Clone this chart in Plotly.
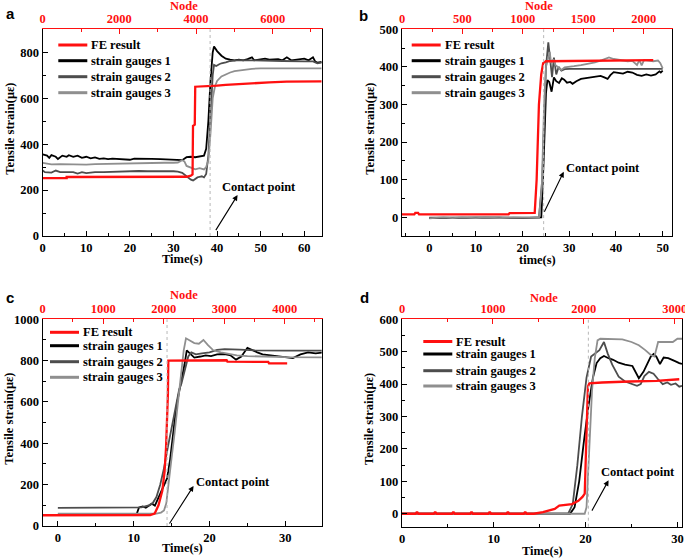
import plotly.graph_objects as go

SERIF = 'Liberation Serif, Times New Roman, serif'
RED = '#ff1010'
GAUGE_COLORS = ['#000000', '#4d4d4d', '#8f8f8f']
LEGEND_NAMES = ['FE result', 'strain gauges 1', 'strain gauges 2', 'strain gauges 3']

# ---------------- panel a ----------------
a_fe_node = [0, 625, 625, 3750, 3865, 3910, 3922, 3968, 3980, 4320, 4550, 4775, 5115, 5460, 5910, 6365, 7280]
a_fe = [252, 252, 257, 258, 263, 268, 480, 485, 650, 652, 655, 658, 662, 665, 669, 672, 673]

a_g1_t = [0, 1, 1.5, 2, 3, 3.5, 4.5, 5.5, 6, 7, 8, 9, 10, 11, 12, 13, 14, 15, 16, 18, 20, 21, 23, 25, 27,
          29, 30, 31, 32, 33, 34, 35, 36, 37, 37.5, 38, 38.5, 39, 39.3, 40, 41, 42, 43, 44, 45, 46, 47, 48,
          48.5, 50, 51, 52, 54, 55, 56, 57, 59, 60, 61, 62, 62.5, 63, 64]
a_g1 = [355, 350, 340, 352, 345, 335, 350, 345, 352, 345, 350, 340, 345, 338, 342, 336, 338, 335, 337, 335,
        332, 337, 335, 336, 335, 333, 335, 333, 330, 343, 345, 343, 346, 350, 380, 500, 680, 800, 825, 805,
        785, 772, 768, 765, 768, 765, 770, 778, 765, 770, 772, 768, 770, 765, 778, 765, 768, 772, 765, 778,
        760, 755, 758]
a_g2_t = [0, 0.5, 2, 3, 4, 6, 7, 8, 9, 10, 11, 12, 14, 16, 18, 20, 22, 24, 26, 28, 30, 31, 32, 33, 34, 34.5,
          35, 35.5, 36, 36.5, 37, 37.5, 38, 38.5, 39, 39.3, 39.8, 40.5, 41, 42, 43, 44, 45, 47, 50, 55, 60,
          62, 63, 64]
a_g2 = [285, 278, 276, 285, 278, 276, 278, 272, 278, 274, 276, 278, 278, 280, 282, 283, 283, 282, 283, 282,
        282, 280, 275, 260, 245, 242, 250, 255, 258, 260, 255, 270, 350, 550, 700, 745, 740, 748, 752, 756,
        762, 764, 766, 765, 763, 762, 760, 760, 752, 755]
a_g3_t = [0, 1, 2, 4, 6, 8, 10, 12, 14, 16, 18, 20, 22, 24, 26, 28, 30, 31, 32, 32.5, 33, 34, 35, 36, 37,
          37.5, 38, 38.5, 39, 39.5, 40, 41, 42, 43, 44, 46, 48, 50, 55, 60, 64]
a_g3 = [318, 315, 312, 313, 312, 314, 311, 313, 314, 315, 316, 318, 318, 318, 318, 319, 319, 320, 330, 325,
        305, 298, 290, 295, 290, 300, 330, 450, 600, 650, 675, 695, 705, 712, 718, 724, 728, 730, 730, 730,
        730]

# ---------------- panel b ----------------
b_fe_node = [0, 102, 110, 133, 141, 882, 890, 1098, 1114, 1133, 1152, 1168, 1191, 1384, 1770, 2079]
b_fe = [8, 8, 12, 12, 8, 8, 11, 12, 100, 300, 380, 410, 415, 416, 418, 418]

b_g1_t = [0, 5, 10, 15, 20, 23, 24, 24.5, 25, 25.3, 25.7, 26.2, 26.7, 27.2, 27.8, 28.4, 28.9, 29.5, 30.2,
          30.7, 31.5, 32.5, 33.5, 34.5, 35.5, 36.7, 37.5, 38.2, 38.8, 39.5, 40.5, 41.5, 42.5, 43.5, 44.5,
          45.5, 46.5, 47.5, 48.5, 49.3, 49.6, 50]
b_g1 = [-2, -1, -2, -1, -2, -1, 0, 150, 330, 365, 360, 334, 372, 362, 357, 370, 366, 358, 360, 355, 362,
        368, 370, 372, 372, 376, 372, 368, 378, 386, 384, 382, 387, 385, 379, 376, 380, 377, 380, 388, 385,
        390]
b_g2_t = [0, 10, 20, 23.5, 24.2, 24.7, 25.0, 25.5, 25.9, 26.3, 26.7, 27.2, 27.7, 28.3, 29, 30, 40, 49, 50]
b_g2 = [-1, 0, -1, 0, 100, 300, 400, 465, 420, 373, 425, 380, 400, 390, 394, 395, 395, 395, 395]
b_g3_t = [0, 3, 5, 7, 10, 12, 15, 18, 20, 23.5, 24.1, 24.6, 25, 25.4, 25.8, 26.1, 26.6, 27, 27.6, 28.3, 29,
          30, 31, 32.5, 34, 35.5, 37, 38.5, 39.5, 41, 42.5, 43.5, 44.5, 45, 45.5, 46, 47, 48, 49, 49.5, 50]
b_g3 = [-3, 0, -2, 0, -2, 0, -2, 0, -1, -1, 80, 300, 400, 418, 440, 410, 420, 405, 398, 392, 399, 400, 402,
        405, 408, 412, 418, 425, 421, 418, 415, 416, 405, 418, 404, 418, 416, 415, 417, 410, 396]

# ---------------- panel c ----------------
c_fe_node = [0, 1776, 1851, 1914, 1977, 2014, 2039, 2058, 2070, 2077, 3040, 3053, 3728, 3741, 4041]
c_fe = [52, 53, 60, 100, 170, 260, 380, 500, 640, 800, 802, 795, 794, 787, 787]

c_g1_t = [0, 5, 10, 10.4, 10.7, 11.2, 11.6, 12, 12.4, 12.8, 13.2, 13.6, 14, 14.4, 14.8, 15.2, 15.6, 16, 16.3,
          16.7, 17, 17.5, 18, 18.8, 19.5, 20.2, 21, 22, 22.8, 23.5, 24.2, 25, 25.6, 26.3, 27, 28, 29, 30, 31,
          32, 33, 34, 35]
c_g1 = [55, 55, 55, 58, 90, 95, 88, 100, 108, 98, 130, 160, 190, 230, 320, 450, 570, 650, 700, 780, 850,
        830, 815, 820, 825, 822, 830, 832, 825, 805, 820, 862, 850, 840, 830, 825, 820, 815, 812, 830, 840,
        835, 840]
c_g2_t = [0, 5, 10, 11, 11.5, 12, 12.5, 13, 13.5, 14, 14.5, 15, 15.5, 16, 16.3, 16.7, 17.2, 17.6, 18.2, 19,
          20, 21, 22, 24, 26, 30, 35]
c_g2 = [88, 88, 88, 90, 95, 100, 110, 140, 200, 280, 380, 480, 580, 660, 690, 750, 820, 840, 830, 835, 840,
        852, 856, 853, 850, 848, 848]
c_g3_t = [0, 5, 10, 13, 13.6, 14, 14.3, 14.7, 15, 15.4, 15.8, 16.2, 16.6, 16.9, 17.5, 18, 18.6, 19.2, 19.8,
          20.5, 21.5, 22.5, 23.6, 25, 27, 30, 35]
c_g3 = [60, 60, 60, 60, 65, 75, 110, 220, 330, 450, 580, 700, 850, 908, 895, 885, 882, 900, 875, 850, 840,
        832, 825, 822, 820, 817, 816]

# ---------------- panel d ----------------
d_fe_node = [0, 150, 160, 170, 180, 350, 360, 370, 380, 550, 560, 570, 580, 750, 760, 770, 780, 950, 960,
             970, 980, 1150, 1160, 1170, 1180, 1340, 1350, 1360, 1370, 1450, 1550, 1610, 1680, 1730, 1800,
             1870, 1940, 1985, 2010, 2020, 2030, 2045, 2060, 2200, 2500, 2800, 3050]
d_fe = [0, 0, 4, 4, 0, 0, 4, 4, 0, 0, 4, 4, 0, 0, 4, 4, 0, 0, 4, 4, 0, 0, 4, 4, 0, 0, 4, 4, 0, 0, 5, 10, 15,
        25, 28, 30, 40, 52, 62, 150, 310, 392, 402, 405, 408, 410, 415]

d_g1_t = [0, 10, 18.3, 18.8, 19.3, 19.8, 20.3, 20.8, 21.2, 21.6, 22, 22.5, 23, 23.6, 24.3, 25.1, 25.8, 26.3,
          26.7, 27.1, 27.4, 27.7, 28.1, 28.5, 29, 29.4, 29.8, 30.2, 30.5]
d_g1 = [0, 0, 0, 20, 100, 220, 330, 420, 465, 480, 487, 480, 475, 466, 460, 456, 418, 438, 460, 485, 493,
        485, 462, 482, 480, 476, 470, 465, 462]
d_g2_t = [0, 10, 18.1, 18.6, 19.1, 19.6, 20.1, 20.6, 21, 21.5, 22, 22.4, 22.9, 23.6, 24.3, 25, 25.6, 26,
          26.4, 26.9, 27.4, 27.9, 28.4, 28.9, 29.3, 29.8, 30.2, 30.5]
d_g2 = [0, 0, 0, 30, 150, 300, 420, 485, 495, 505, 530, 495, 460, 423, 408, 402, 395, 400, 425, 438, 432,
        415, 400, 405, 398, 402, 392, 395]
d_g3_t = [0, 10, 19.9, 20.1, 20.4, 20.7, 21, 21.3, 21.6, 23, 24, 25, 25.8, 26.5, 27.1, 27.5, 27.9, 28.5,
          29.5, 30, 30.5]
d_g3 = [0, 0, 0, 20, 200, 380, 480, 535, 540, 540, 538, 530, 520, 505, 490, 485, 530, 530, 530, 540, 540]


def px_x(p):
    return p / 685.0


def px_y(p):
    return 1 - p / 560.0


def tick_axis(dtick, minor, color='black'):
    return dict(
        showline=True, linecolor=color, linewidth=1.3, automargin=False,
        ticks='inside', ticklen=5, tickwidth=1.2, tickcolor=color,
        dtick=dtick, tick0=0, ticklabeloverflow='allow',
        minor=dict(ticks='inside', ticklen=3, tickwidth=1, tickcolor=color, dtick=minor),
        showgrid=False, zeroline=False,
        tickfont=dict(family=SERIF, size=12.5, color=color, weight='bold'),
    )


def text_font(color='black', size=12.5):
    return dict(family=SERIF, size=size, color=color, weight='bold')


def add_panel(fig, idx, box, fe, gauges, t_range, node_range, y_range, ticks,
              contact_t, arrow, text_at, letter, letter_at, xlabel, xlabel_y, ylabel_x, node_y,
              legend_x, legend_rows):
    s_t = '' if idx == 1 else str(2 * idx - 1)
    s_n = str(2 * idx)
    s_y = '' if idx == 1 else str(idx)

    # FE result drawn against the node axis
    fig.add_trace(go.Scatter(x=fe[0], y=fe[1], mode='lines', name='FE result',
                             line=dict(color=RED, width=2.3), showlegend=False,
                             xaxis='x' + s_n, yaxis='y' + s_y))
    for (t, v), name, col in zip(gauges, LEGEND_NAMES[1:], GAUGE_COLORS):
        fig.add_trace(go.Scatter(x=t, y=v, mode='lines', name=name, showlegend=False,
                                 line=dict(color=col, width=1.8),
                                 xaxis='x' + s_t, yaxis='y' + s_y))

    x0, x1, y0, y1 = box
    xa = tick_axis(ticks[0], ticks[0] / 2)
    xa.update(domain=[px_x(x0), px_x(x1)], range=t_range, anchor='y' + s_y)
    na = tick_axis(ticks[1], ticks[1] / 2, RED)
    na.update(domain=[px_x(x0), px_x(x1)], range=node_range, anchor='y' + s_y,
              overlaying='x' + s_t, side='top')
    ya = tick_axis(ticks[2], ticks[2] / 2)
    ya.update(domain=[px_y(y1), px_y(y0)], range=y_range, anchor='x' + s_t, mirror=True)
    fig.update_layout({'xaxis' + s_t: xa, 'xaxis' + s_n: na, 'yaxis' + s_y: ya})

    # axis titles
    fig.add_annotation(xref='paper', yref='paper', x=px_x((x0 + x1) / 2), y=px_y(xlabel_y), text=xlabel,
                       showarrow=False, xanchor='center', yanchor='middle', font=text_font())
    fig.add_annotation(xref='paper', yref='paper', x=px_x((x0 + x1) / 2 + 2), y=px_y(node_y), text='Node',
                       showarrow=False, xanchor='center', yanchor='middle', font=text_font(RED))
    fig.add_annotation(xref='paper', yref='paper', x=px_x(ylabel_x), y=px_y((y0 + y1) / 2 - 4),
                       text='Tensile strain(\u03bc\u03b5)', textangle=-90,
                       showarrow=False, xanchor='center', yanchor='middle', font=text_font())

    # hand-made legend (tighter rows than plotly's legend allows)
    for name, col, row in zip(LEGEND_NAMES, [RED] + GAUGE_COLORS, legend_rows):
        fig.add_shape(type='line', xref='paper', yref='paper',
                      x0=px_x(legend_x), x1=px_x(legend_x + 29), y0=px_y(row), y1=px_y(row),
                      line=dict(color=col, width=3))
        fig.add_annotation(xref='paper', yref='paper', x=px_x(legend_x + 31), y=px_y(row), text=name,
                           showarrow=False, xanchor='left', yanchor='middle', font=text_font())

    # contact point marker
    fig.add_shape(type='line', xref='x' + s_t, yref='y' + s_y + ' domain', x0=contact_t, x1=contact_t,
                  y0=0, y1=1, line=dict(color='#b8b8b8', width=1, dash='dot'))
    fig.add_annotation(xref='x' + s_t, yref='y' + s_y, x=arrow[2], y=arrow[3],
                       axref='x' + s_t, ayref='y' + s_y, ax=arrow[0], ay=arrow[1],
                       text='', showarrow=True, arrowhead=2, arrowsize=1, arrowwidth=1.1, arrowcolor='black')
    fig.add_annotation(xref='x' + s_t, yref='y' + s_y, x=text_at[0], y=text_at[1], text='Contact point',
                       showarrow=False, font=text_font())
    fig.add_annotation(xref='paper', yref='paper', x=px_x(letter_at[0]), y=px_y(letter_at[1]), text=letter,
                       showarrow=False, xanchor='center', yanchor='middle',
                       font=dict(family='Liberation Sans', size=15, color='black', weight='bold'))


fig = go.Figure()

add_panel(fig, 1, (42.7, 321.7, 29.3, 236),
          (a_fe_node, a_fe), [(a_g1_t, a_g1), (a_g2_t, a_g2), (a_g3_t, a_g3)],
          [0, 64], [0, 7280], [0, 900], (10, 2000, 200),
          38.4, (39.5, 19, 44.7, 178), (49.6, 215), 'a', (10, 13), 'Time(s)', 259, 10, 6,
          58.3, (45, 60.7, 76.7, 92.7))
add_panel(fig, 2, (402, 672, 29.3, 236.1),
          (b_fe_node, b_fe), [(b_g1_t, b_g1), (b_g2_t, b_g2), (b_g3_t, b_g3)],
          [-5.85, 52], [0, 2234], [-50, 500], (10, 500, 100),
          24.5, (24.5, 11, 28.8, 121), (37.2, 130), 'b', (363, 15), 'time(s)', 260, 370, 6,
          411.7, (45, 60.7, 76.7, 92.7))
add_panel(fig, 3, (42.7, 321.7, 319.3, 526),
          (c_fe_node, c_fe), [(c_g1_t, c_g1), (c_g2_t, c_g2), (c_g3_t, c_g3)],
          [-2, 34.8], [0, 4612], [0, 1000], (10, 1000, 200),
          14.4, (14.6, 5, 17.9, 194), (23.1, 215), 'c', (10, 297), 'Time(s)', 548, 9, 295,
          50, (332.3, 345.7, 361.7, 377.3))
add_panel(fig, 4, (402, 682, 319.3, 526.7),
          (d_fe_node, d_fe), [(d_g1_t, d_g1), (d_g2_t, d_g2), (d_g3_t, d_g3)],
          [0, 30.5], [0, 3080], [-40, 600], (10, 1000, 100),
          20.3, (20.6, 5, 22.5, 103), (25.7, 129), 'd', (364, 297), 'Time(s)', 551, 369, 298,
          423.3, (341.5, 354, 370.7, 386))

fig.update_layout(
    width=685, height=560,
    margin=dict(l=0, r=0, t=0, b=0),
    paper_bgcolor='white', plot_bgcolor='white',
    showlegend=False,
)

# the page's default body margin would shift the picture by 8 px
fig.write_html("out.html", config={'displayModeBar': False},
               post_script="document.body.style.margin='0';")
